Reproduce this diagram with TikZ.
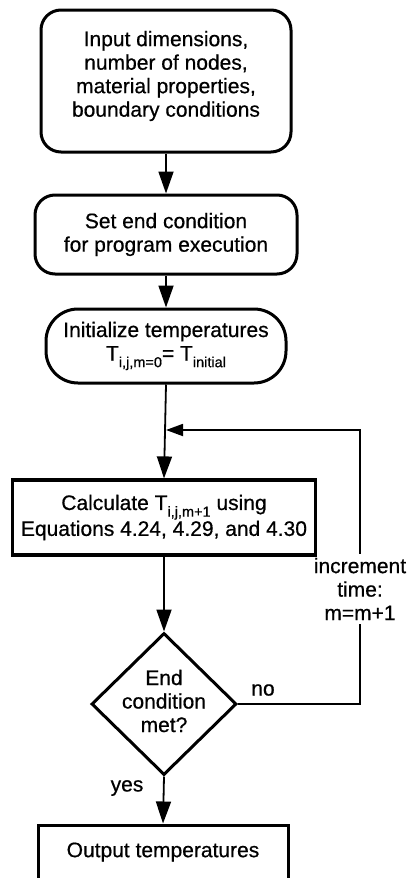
\documentclass[tikz,border=0pt]{standalone}
\usepackage{fontspec}
\setmainfont{Liberation Sans}[FakeBold=0.6]
\usetikzlibrary{arrows.meta,shapes.geometric}
\newcommand\lsub[1]{\raisebox{-0.6ex}{\fontsize{14.5}{14.5}\selectfont #1}}
\begin{document}
\begin{tikzpicture}[x=1pt,y=-1pt,
  every node/.style={font=\fontsize{21}{23.5}\selectfont, align=center, inner sep=0pt},
  boxline/.style={draw, line width=3pt},
  rbox/.style={boxline, rounded corners=20pt},
  flow/.style={line width=1.8pt, -{Triangle[length=22pt,width=15pt]}},
  loopflow/.style={line width=1.8pt, -{Triangle[length=17pt,width=12pt]}},
  plain/.style={line width=1.8pt},
]
\useasboundingbox (0,0) rectangle (417,878);
\clip (0,0) rectangle (417,878);

\node[rbox, minimum width=250pt, minimum height=142pt] (b1) at (166,81) {};
\node (t1) at (166,76) {Input dimensions,\\number of nodes,\\material properties,\\boundary conditions};

\node[rbox, minimum width=262pt, minimum height=79pt] (b2) at (166,234.5) {Set end condition\\for program execution};

\node[boxline, rounded corners=32pt, minimum width=240pt, minimum height=74pt] (b3) at (166,346) {Initialize temperatures\\T\lsub{i,j,m=0}= T\lsub{initial}};

\node[boxline, line width=3.2pt, minimum width=303pt, minimum height=75pt] (b4) at (164,517.5) {Calculate T\lsub{i,j,m+1} using\\Equations 4.24, 4.29, and 4.30};

\node[diamond, boxline, minimum width=145pt, minimum height=142pt] (d) at (164,704) {};
\node (dt) at (164,701) {End\\condition\\met?};

\node[boxline, minimum width=250pt, minimum height=80pt] (b5) at (163,865) {};
\node (t5) at (163,852) {Output temperatures};

\node[inner ysep=4pt] (inc) at (360,589) {increment\\time:\\m=m+1};
\node (no) at (263,690) {no};
\node (yes) at (127,788) {yes};

\coordinate (j) at (b3.south |- 0,430);

\draw[flow] (b1.south) -- (b2.north);
\draw[flow] (b2.south) -- (b3.north);
\draw[flow] (b3.south) -- (b4.north);
\draw[flow] (b4.south) -- (d.north);
\draw[flow] (d.south) -- (b5.north);
\draw[plain] (d.east) -| (inc.south);
\draw[loopflow] (inc.north) |- (j);
\end{tikzpicture}
\end{document}
